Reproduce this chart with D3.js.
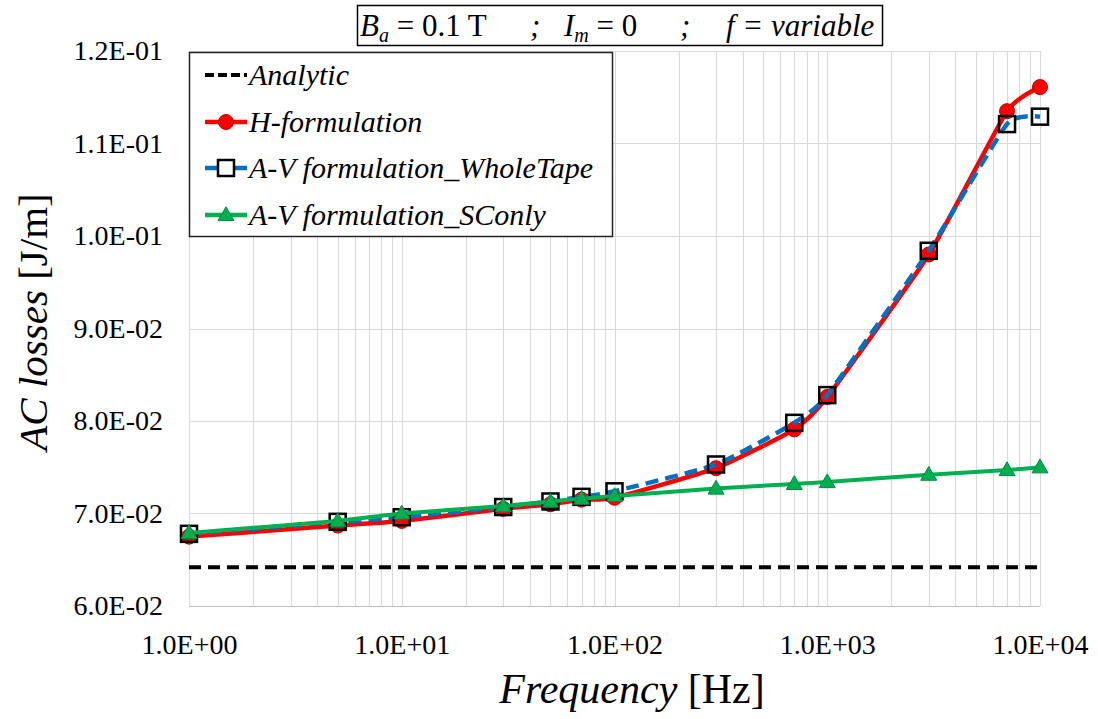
<!DOCTYPE html>
<html>
<head>
<meta charset="utf-8">
<script src="https://cdn.jsdelivr.net/npm/d3@7"></script>
<style>
  body { margin: 0; background: #fff; }
  svg { display: block; font-family: "Liberation Serif", "Times New Roman", serif; }
</style>
</head>
<body>
<svg id="chart" width="1098" height="719"></svg>
<script>
// frequencies [Hz]
var freq = [1, 5, 10, 30, 50, 70, 100, 300, 700, 1000, 3000, 7000, 10000];

// AC losses [J/m]
var analytic   = [0.0642, 0.0642, 0.0642, 0.0642, 0.0642, 0.0642, 0.0642, 0.0642, 0.0642, 0.0642, 0.0642, 0.0642, 0.0642];
var hForm      = [0.0675, 0.0687, 0.0692, 0.0705, 0.0710, 0.0715, 0.0717, 0.0749, 0.0791, 0.0826, 0.0980, 0.1135, 0.1161];
var avWhole    = [0.0678, 0.0691, 0.0696, 0.0707, 0.0713, 0.0718, 0.0724, 0.0753, 0.0798, 0.0828, 0.0984, 0.1121, 0.1129];
var avSConly   = [0.0679, 0.0692, 0.0700, 0.0708, 0.0713, 0.0716, 0.0719, 0.0727, 0.0732, 0.0734, 0.0742, 0.0747, 0.0750];

var xTicks = [1, 10, 100, 1000, 10000];
var yTicks = [0.06, 0.07, 0.08, 0.09, 0.10, 0.11, 0.12];

var seriesNames = ["Analytic", "H-formulation", "A-V formulation_WholeTape", "A-V formulation_SConly"];

// colours
var colAnalytic = "#000000";
var colH = "#ff0000";
var colWhole = "#0070c0";
var colSC = "#00b050";
var colGrid = "#d9d9d9";

var svg = d3.select("#chart");

//plot area
var pLeft = 189, pRight = 1040, pTop = 51, pBottom = 606;

var x = d3.scaleLog().domain([1, 10000]).range([pLeft, pRight]);
var y = d3.scaleLinear().domain([0.06, 0.12]).range([pBottom, pTop]);

//Excel style number format 1.0E+01
function sci(v) {
  var s = v.toExponential(1).split("e");
  var e = +s[1];
  var sign = e < 0 ? "-" : "+";
  var ab = Math.abs(e);
  return s[0] + "E" + sign + (ab < 10 ? "0" + ab : ab);
}

//grid lines
var minor = [];
for (var d = 0; d < 4; d++) {
  for (var k = 2; k <= 9; k++) minor.push(k * Math.pow(10, d));
}
var grid = svg.append("g");
grid.selectAll(".vminor").data(minor.concat(xTicks)).enter().append("line")
  .attr("x1", function(d) { return Math.round(x(d)) + 0.5; })
  .attr("x2", function(d) { return Math.round(x(d)) + 0.5; })
  .attr("y1", pTop).attr("y2", pBottom)
  .attr("stroke", colGrid).attr("stroke-width", 1);
grid.selectAll(".hmajor").data(yTicks).enter().append("line")
  .attr("x1", pLeft).attr("x2", pRight)
  .attr("y1", function(d) { return Math.round(y(d)) + 0.5; })
  .attr("y2", function(d) { return Math.round(y(d)) + 0.5; })
  .attr("stroke", function(d) { return d === 0.06 ? "#bfbfbf" : colGrid; })
  .attr("stroke-width", 1);

//axes
var xAxis = svg.append("g")
  .attr("transform", "translate(0," + pBottom + ")")
  .call(d3.axisBottom(x).tickValues(xTicks).tickFormat(sci).tickSize(0).tickPadding(28));
xAxis.select(".domain").remove();
xAxis.selectAll("text").attr("font-size", 28).attr("fill", "#000")
  .attr("font-family", "Liberation Serif");

var yAxis = svg.append("g")
  .attr("transform", "translate(" + pLeft + ",0)")
  .call(d3.axisLeft(y).tickValues(yTicks).tickFormat(sci).tickSize(0).tickPadding(26));
yAxis.select(".domain").remove();
yAxis.selectAll("text").attr("font-size", 28).attr("fill", "#000")
  .attr("font-family", "Liberation Serif");

//axis titles
var xt = svg.append("text").attr("x", 632).attr("y", 703)
  .attr("text-anchor", "middle").attr("font-size", 42);
xt.append("tspan").attr("font-style", "italic").text("Frequency");
xt.append("tspan").text(" [Hz]");

var yt = svg.append("text")
  .attr("transform", "translate(47,322) rotate(-90)")
  .attr("text-anchor", "middle").attr("font-size", 41);
yt.append("tspan").attr("font-style", "italic").text("AC losses");
yt.append("tspan").text(" [J/m]");

//series
function pts(vals) {
  return freq.map(function(f, i) { return [f, vals[i]]; });
}
//smoothed line like the spreadsheet one
var smooth = d3.line()
  .x(function(d) { return x(d[0]); })
  .y(function(d) { return y(d[1]); })
  .curve(d3.curveCardinal.tension(0.5));
var straight = d3.line()
  .x(function(d) { return x(d[0]); })
  .y(function(d) { return y(d[1]); });

var plot = svg.append("g");

//Analytic
plot.append("path").datum(pts(analytic))
  .attr("d", straight).attr("fill", "none")
  .attr("stroke", colAnalytic).attr("stroke-width", 4).attr("stroke-dasharray", "12,7");

//H-formulation
plot.append("path").datum(pts(hForm))
  .attr("d", smooth).attr("fill", "none")
  .attr("stroke", colH).attr("stroke-width", 4.5);
plot.selectAll(".hdot").data(pts(hForm)).enter().append("circle")
  .attr("cx", function(d) { return x(d[0]); })
  .attr("cy", function(d) { return y(d[1]); })
  .attr("r", 7.5).attr("fill", colH).attr("stroke", "#c00000").attr("stroke-width", 1);

//A-V whole tape
plot.append("path").datum(pts(avWhole))
  .attr("d", smooth).attr("fill", "none")
  .attr("stroke", colWhole).attr("stroke-width", 4.5).attr("stroke-dasharray", "13,7");
plot.selectAll(".wsq").data(pts(avWhole)).enter().append("rect")
  .attr("x", function(d) { return x(d[0]) - 8; })
  .attr("y", function(d) { return y(d[1]) - 8; })
  .attr("width", 16).attr("height", 16)
  .attr("fill", "none").attr("stroke", "#000").attr("stroke-width", 2.5);

//A-V SC only
var tri = d3.symbol().type(d3.symbolTriangle).size(110);
plot.append("path").datum(pts(avSConly))
  .attr("d", smooth).attr("fill", "none")
  .attr("stroke", colSC).attr("stroke-width", 4);
plot.selectAll(".stri").data(pts(avSConly)).enter().append("path")
  .attr("d", tri)
  .attr("transform", function(d) { return "translate(" + x(d[0]) + "," + (y(d[1]) + 1) + ")"; })
  .attr("fill", colSC).attr("stroke", "#008a3e").attr("stroke-width", 1);

//legend
var lg = svg.append("g");
lg.append("rect").attr("x", 189.5).attr("y", 52.5).attr("width", 423).attr("height", 184)
  .attr("fill", "#fff").attr("stroke", "#222").attr("stroke-width", 1.5);
var rowY = [75, 122, 168, 215];
var legendRows = lg.selectAll(".row").data(seriesNames).enter().append("g")
  .attr("transform", function(d, i) { return "translate(0," + rowY[i] + ")"; });
legendRows.each(function(name, i) {
  var g = d3.select(this);
  var line = g.append("line").attr("x1", 205).attr("x2", 247).attr("y1", 0).attr("y2", 0)
    .attr("stroke-width", 4.5);
  if (i === 0) line.attr("stroke", colAnalytic).attr("stroke-dasharray", "9,4").attr("stroke-width", 4);
  if (i === 1) {
    line.attr("stroke", colH);
    g.append("circle").attr("cx", 226).attr("cy", 0).attr("r", 7.5)
      .attr("fill", colH).attr("stroke", "#c00000");
  }
  if (i === 2) {
    line.attr("stroke", colWhole);
    g.append("rect").attr("x", 218).attr("y", -8).attr("width", 16).attr("height", 16)
      .attr("fill", "#fff").attr("stroke", "#000").attr("stroke-width", 2.5);
  }
  if (i === 3) {
    line.attr("stroke", colSC);
    g.append("path").attr("d", tri).attr("transform", "translate(226,1)")
      .attr("fill", colSC).attr("stroke", "#008a3e");
  }
  g.append("text").attr("x", 249).attr("y", 10)
    .attr("font-size", 30).attr("font-style", "italic").text(name);
});

//title box
svg.append("rect").attr("x", 357.5).attr("y", 5.5).attr("width", 525).attr("height", 40)
  .attr("fill", "#fff").attr("stroke", "#000").attr("stroke-width", 1.5);
var tt = svg.append("text").attr("y", 36).attr("font-size", 31);
tt.append("tspan").attr("x", 360).attr("font-style", "italic").text("B");
tt.append("tspan").attr("font-style", "italic").attr("font-size", 20).attr("dy", 6).text("a");
tt.append("tspan").attr("dy", -6).text(" = 0.1 T");
tt.append("tspan").attr("x", 530).attr("font-style", "italic").text(";");
tt.append("tspan").attr("x", 564).attr("font-style", "italic").text("I");
tt.append("tspan").attr("font-style", "italic").attr("font-size", 20).attr("dy", 6).text("m");
tt.append("tspan").attr("dy", -6).text(" = 0");
tt.append("tspan").attr("x", 680).attr("font-style", "italic").text(";");
tt.append("tspan").attr("x", 726).attr("font-style", "italic").text("f = variable");
</script>
</body>
</html>
